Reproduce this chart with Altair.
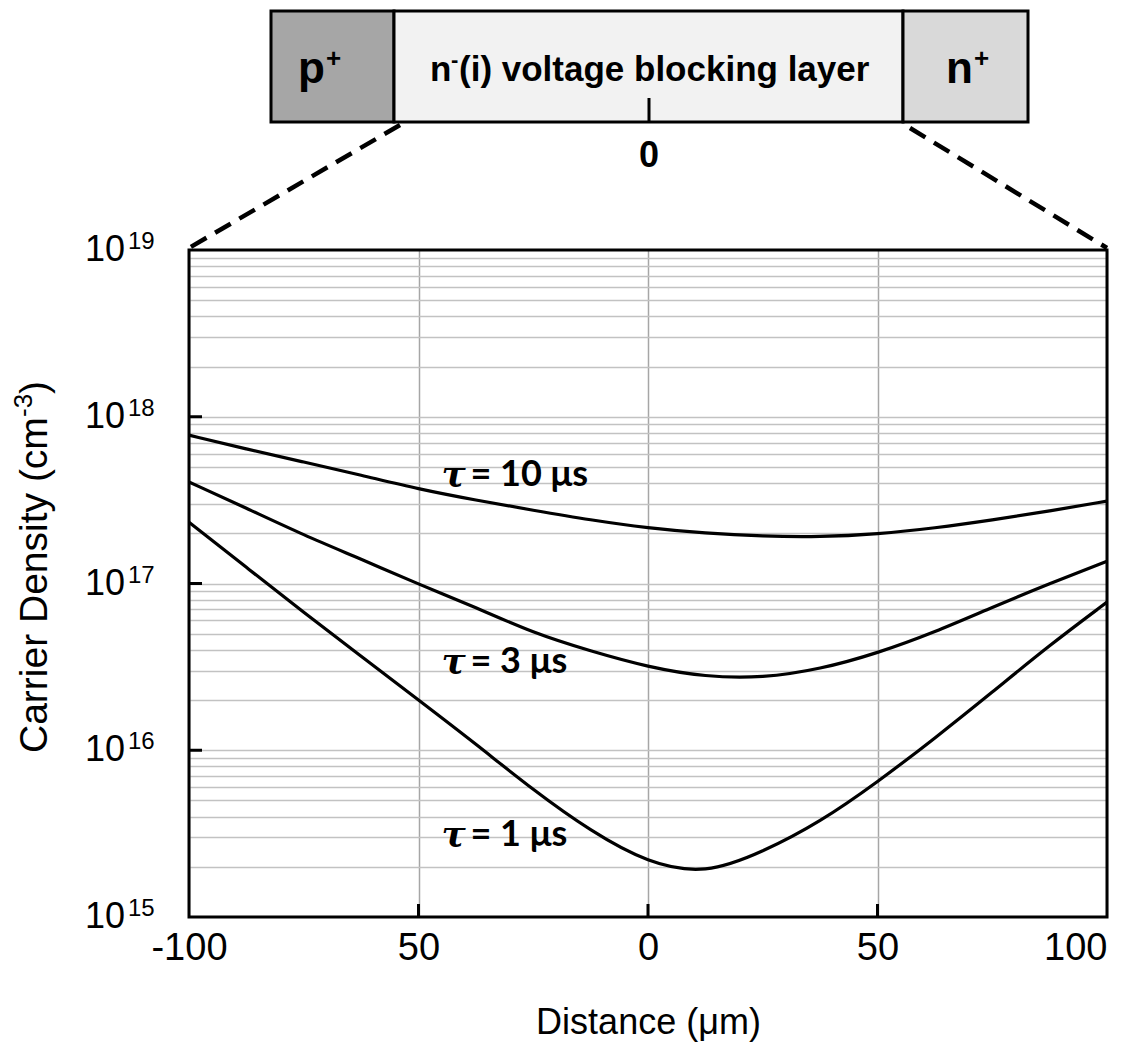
import altair as alt
import pandas as pd

# Carrier density (cm^-3) across the drift region, distance in μm from its centre
distance = [-100, -87.5, -75, -62.5, -50, -37.5, -25, -12.5, 0,
            12.5, 25, 37.5, 50, 62.5, 75, 87.5, 100]
dens_tau10 = [7.76e17, 6.40e17, 5.35e17, 4.47e17, 3.68e17, 3.16e17, 2.75e17, 2.40e17, 2.15e17,
              2.00e17, 1.92e17, 1.90e17, 1.98e17, 2.15e17, 2.40e17, 2.72e17, 3.12e17]
dens_tau3 = [4.06e17, 2.83e17, 1.95e17, 1.40e17, 9.9e16, 7.2e16, 5.04e16, 3.93e16, 3.15e16,
             2.75e16, 2.71e16, 3.06e16, 3.82e16, 5.11e16, 7.2e16, 1.00e17, 1.36e17]
dens_tau1 = [2.33e17, 1.25e17, 6.7e16, 3.66e16, 2.0e16, 1.09e16, 5.77e15, 3.27e15, 2.10e15,
             1.80e15, 2.45e15, 3.71e15, 6.44e15, 1.18e16, 2.23e16, 4.27e16, 7.73e16]

# Curve labels
lifetimes = ["10 μs", "3 μs", "1 μs"]
label_dist = [-45, -45, -45]
label_dens = [4.47e17, 3.37e16, 3.1e15]

# Axis values
x_tick_values = [-100, -50, 0, 50, 100]
x_inner_ticks = [-50, 0, 50]
decades = [1e15, 1e16, 1e17, 1e18, 1e19]
decade_exponents = ["15", "16", "17", "18", "19"]

W, H = 918, 667
FONT = "Liberation Sans"

x_scale = alt.Scale(domain=[-100, 100], nice=False, zero=False)
y_scale = alt.Scale(type="log", domain=[1e15, 1e19], nice=False)

grid_values = [k * 10.0 ** n for n in range(15, 19) for k in range(1, 10)][1:]

rows = []
for tau, ys in [("10", dens_tau10), ("3", dens_tau3), ("1", dens_tau1)]:
    rows += [{"tau": tau, "distance": a, "density": b} for a, b in zip(distance, ys)]
profiles = pd.DataFrame(rows)

curves = alt.Chart(profiles).mark_line(color="black", strokeWidth=3.2, interpolate="basis").encode(
    x=alt.X("distance:Q", scale=x_scale, axis=alt.Axis(
        values=x_tick_values, grid=True, gridColor="#a6a6a6", gridWidth=1.5,
        ticks=False, domain=False, labelFlush=False, labelOverlap=False,
        labelExpr="datum.value == -100 ? '-100' : format(abs(datum.value), 'd')",
        labelAlign={"condition": {"test": "datum.value == 100", "value": "right"}, "value": "center"},
        labelFont=FONT, labelFontSize=38, labelColor="black", labelPadding=12,
        title="Distance (μm)", titleFont=FONT, titleFontSize=36, titleFontWeight="normal",
        titleColor="black", titlePadding=38)),
    y=alt.Y("density:Q", scale=y_scale, axis=alt.Axis(
        values=grid_values, grid=True, gridColor="#c2c2c2", gridWidth=1.5,
        labels=False, ticks=False, domain=False, title=None)),
    detail="tau:N",
)

labels_df = pd.DataFrame({"distance": label_dist, "density": label_dens, "label": ["= " + t for t in lifetimes]})
tau_sym = alt.Chart(labels_df).mark_text(
    align="left", baseline="middle", font="DejaVu Serif", fontStyle="italic",
    fontWeight="bold", fontSize=36, color="black"
).encode(x=alt.X("distance:Q", scale=x_scale), y=alt.Y("density:Q", scale=y_scale), text=alt.value("τ"))
tau_txt = alt.Chart(labels_df).mark_text(
    align="left", baseline="middle", font="Lato", fontWeight="bold", fontSize=36, color="black", dx=29
).encode(x=alt.X("distance:Q", scale=x_scale), y=alt.Y("density:Q", scale=y_scale), text="label:N")

# Inward tick marks
xt = alt.Chart(pd.DataFrame({"distance": x_inner_ticks})).mark_rule(color="black", strokeWidth=3).encode(
    x=alt.X("distance:Q", scale=x_scale), y=alt.value(H - 13), y2=alt.value(H))
yt = alt.Chart(pd.DataFrame({"density": decades[1:-1]})).mark_rule(color="black", strokeWidth=3).encode(
    y=alt.Y("density:Q", scale=y_scale), x=alt.value(0), x2=alt.value(13))

# Decade labels 10^n
dec_df = pd.DataFrame({"density": decades, "exp": decade_exponents})
ylab_base = alt.Chart(dec_df).mark_text(
    align="right", baseline="middle", font=FONT, fontSize=36, color="black"
).encode(y=alt.Y("density:Q", scale=y_scale), x=alt.value(-64), text=alt.value("10"))
ylab_exp = alt.Chart(dec_df).mark_text(
    align="left", baseline="middle", font=FONT, fontSize=24, color="black", dy=-8
).encode(y=alt.Y("density:Q", scale=y_scale), x=alt.value(-61), text="exp:N")

one = pd.DataFrame({"k": [0]})

def txt(s, x, y, size, weight="normal", align="left", baseline="alphabetic", angle=0):
    kw = dict(align=align, baseline=baseline, font=FONT, fontSize=size, fontWeight=weight, color="black")
    if angle:
        kw["angle"] = angle
    return alt.Chart(one).mark_text(**kw).encode(x=alt.value(x), y=alt.value(y), text=alt.value(s))

# Vertical axis title with superscript
y_title = [
    txt("Carrier Density (cm", -154, 503, 39, baseline="middle", angle=270),
    txt("-3", -165, 167, 26, baseline="middle", angle=270),
    txt(")", -154, 144, 39, baseline="middle", angle=270),
]

# Device cross-section above the plot
def box(x0, x1, fill):
    return alt.Chart(one).mark_rect(fill=fill, stroke="black", strokeWidth=3).encode(
        x=alt.value(x0), x2=alt.value(x1), y=alt.value(-239), y2=alt.value(-128))

def seg(x0, y0, x1, y1, dash=None, width=3):
    kw = dict(color="black", strokeWidth=width)
    if dash:
        kw["strokeDash"] = dash
    return alt.Chart(one).mark_rule(**kw).encode(
        x=alt.value(x0), y=alt.value(y0), x2=alt.value(x1), y2=alt.value(y1))

diagram = [
    box(82, 205, "#a6a6a6"),
    box(205, 714, "#f2f2f2"),
    box(714, 839, "#d9d9d9"),
    seg(460, -152, 460, -128),
    seg(211, -125, 0, -2, dash=[18, 10], width=4.5),
    seg(721, -122, 918, -2, dash=[18, 10], width=4.5),
    txt("p", 109, -167, 44, weight="bold"),
    txt("+", 137, -183, 26, weight="bold"),
    txt("n", 757, -167, 44, weight="bold"),
    txt("+", 785, -183, 26, weight="bold"),
    txt("n", 241, -169, 35, weight="bold"),
    txt("-", 262, -183, 22, weight="bold"),
    txt("(i) voltage blocking layer", 270, -169, 35, weight="bold"),
    txt("0", 460, -83, 36, weight="bold", align="center"),
]

frame = alt.Chart(one).mark_rect(fillOpacity=0, stroke="black", strokeWidth=3).encode(
    x=alt.value(0), x2=alt.value(W), y=alt.value(0), y2=alt.value(H))

chart = alt.layer(
    curves, xt, yt, frame, tau_sym, tau_txt, ylab_base, ylab_exp, *y_title, *diagram
).properties(
    width=W, height=H,
    padding={"left": 189, "top": 250, "right": 20, "bottom": 132},
    autosize=alt.AutoSizeParams(type="none"),
).configure_view(strokeWidth=0)

chart.save("out.html", embed_options={"renderer": "svg", "actions": False})
